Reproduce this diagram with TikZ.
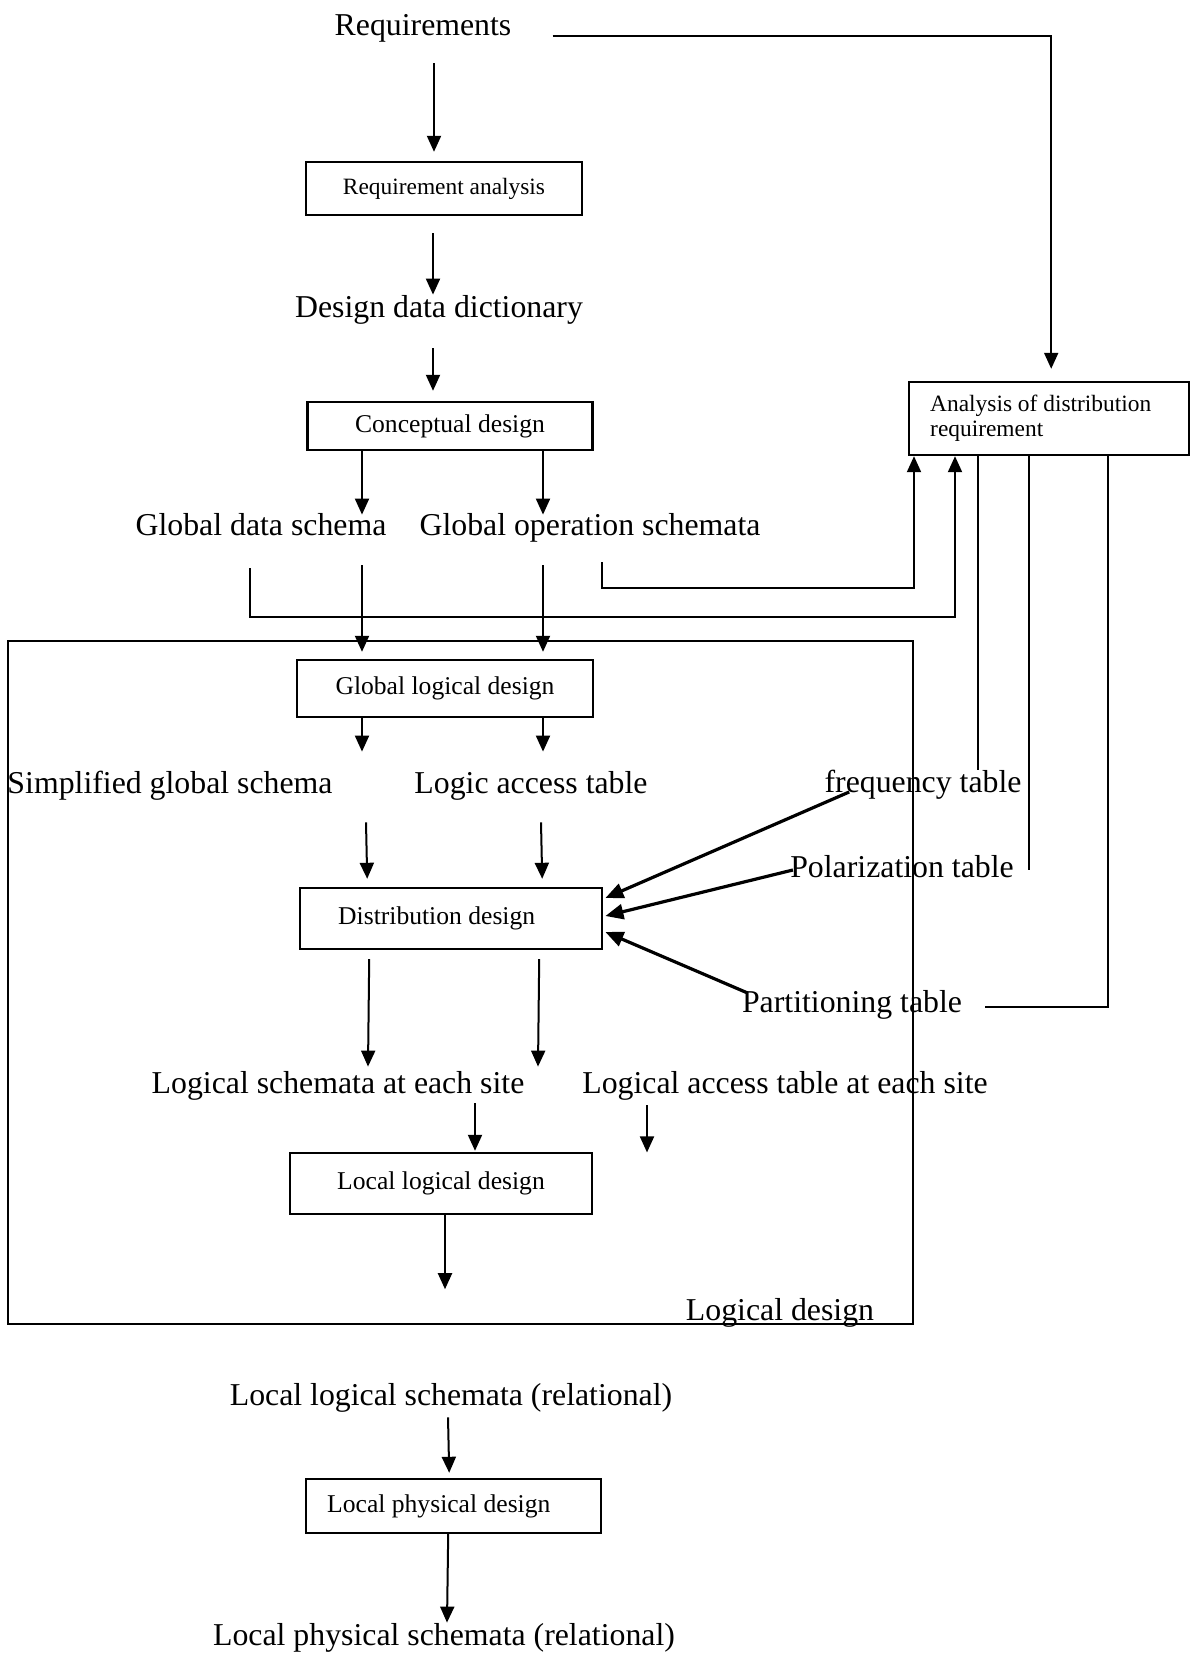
\documentclass[tikz,border=0pt]{standalone}
\usepackage{fontspec}
\setmainfont{Liberation Serif}
\usetikzlibrary{arrows.meta}
\newcommand{\diaglabelfont}{\fontsize{15.9}{19}\selectfont}
\newcommand{\diagboxfont}{\fontsize{12.8}{14}\selectfont}
\newcommand{\diagsmallfont}{\fontsize{11.7}{12.5}\selectfont}
\begin{document}
\begin{tikzpicture}[x=0.5pt, y=-0.5pt,
  lab/.style={inner sep=0pt, font=\diaglabelfont, text height=11pt, text depth=3.5pt, anchor=base},
  procbox/.style={draw, line width=1.2pt, inner sep=0pt, font=\diagboxfont},
  arr/.style={line width=1pt, -{Triangle[length=8pt,width=7pt]}},
  thickarr/.style={line width=1.6pt, -{Triangle[length=9pt,width=7.5pt]}},
  link/.style={line width=1pt},
  frame/.style={draw, line width=1.2pt, inner sep=0pt}
]
\fill[white] (0,0) rectangle (1194,1653);
\useasboundingbox (0,0) rectangle (1194,1653);

% enclosing logical design stage
\node[frame, minimum width=452.5pt, minimum height=341.5pt] (ldbox) at (460.5,982.5) {};
\node[lab] (ldlab) at (780,1320) {Logical design};

% nodes
\node[lab] (req) at (423,36) {Requirements};
\node[procbox, font=\diagsmallfont, minimum width=138pt, minimum height=26.5pt] (ra) at (444,188.5) {Requirement analysis};
\node[lab] (ddd) at (439,317) {Design data dictionary};
\node[procbox, minimum width=142.5pt, minimum height=24pt] (cd) at (450,426) {Conceptual design};
\node[lab] (gds) at (261,535) {Global data schema};
\node[lab] (gos) at (590,535) {Global operation schemata};
\node[procbox, font=\diagsmallfont, text width=119pt, align=flush left, inner xsep=10.5pt, minimum height=36.5pt, anchor=west] (adr) at (908,418.5) {Analysis of distribution\\requirement};
\node[procbox, minimum width=148pt, minimum height=28.5pt] (gld) at (445,688.5) {Global logical design};
\node[lab] (sgs) at (170,793) {Simplified global schema};
\node[lab] (lat) at (531,793) {Logic access table};
\node[lab] (ft) at (923,792) {frequency table};
\node[lab] (pt) at (902,877) {Polarization table};
\node[lab] (ptn) at (852,1012) {Partitioning table};
\node[procbox, text width=113pt, align=flush left, inner xsep=19pt, minimum height=30.5pt, anchor=west] (dd) at (299,918.5) {Distribution design};
\node[lab] (lss) at (338,1093) {Logical schemata at each site};
\node[lab] (lats) at (785,1093) {Logical access table at each site};
\node[procbox, minimum width=151pt, minimum height=30.5pt] (lld) at (441,1183.5) {Local logical design};
\node[lab] (lls) at (451,1405) {Local logical schemata (relational)};
\node[procbox, text width=126.5pt, align=flush left, inner xsep=10.5pt, minimum height=27pt, anchor=west] (lpd) at (305,1506) {Local physical design};
\node[lab] (lps) at (444,1645) {Local physical schemata (relational)};

% main flow
\draw[arr] ([xshift=5.5pt,yshift=-10pt]req.south) -- ([xshift=-5pt,yshift=4.5pt]ra.north);
\draw[arr] ([xshift=-5.5pt,yshift=-8.5pt]ra.south) -- ([xshift=-3pt]ddd.north);
\draw[arr] ([xshift=-3pt,yshift=-12pt]ddd.south) -- ([xshift=-8.5pt,yshift=5pt]cd.north);
\draw[arr] ([xshift=-44pt]cd.south) -- ([xshift=50.5pt,yshift=-1pt]gds.north);
\draw[arr] ([xshift=46.5pt]cd.south) -- ([xshift=-23.5pt,yshift=-1pt]gos.north);
\draw[arr] ([xshift=50.5pt,yshift=-11.5pt]gds.south) -- ([xshift=-41.5pt,yshift=3.5pt]gld.north);
\draw[arr] ([xshift=-23.5pt,yshift=-11.5pt]gos.south) -- ([xshift=49pt,yshift=3.5pt]gld.north);
\draw[arr] ([xshift=-41.5pt]gld.south) -- ([xshift=96pt,yshift=9.5pt]sgs.north);
\draw[arr] ([xshift=49pt]gld.south) -- ([xshift=6pt,yshift=9.5pt]lat.north);
\draw[arr] ([xshift=98pt,yshift=-11pt]sgs.south) -- ([xshift=-42pt,yshift=4pt]dd.north);
\draw[arr] ([xshift=5pt,yshift=-11pt]lat.south) -- ([xshift=45.5pt,yshift=4pt]dd.north);
\draw[thickarr] ([xshift=12.5pt]ft.base west) -- ([xshift=1pt,yshift=10.25pt]dd.east);
\draw[thickarr] ([xshift=1.5pt,yshift=3.5pt]pt.base west) -- ([xshift=1pt,yshift=1.25pt]dd.east);
\draw[thickarr] ([xshift=3pt,yshift=9.5pt]ptn.base west) -- ([xshift=1pt,yshift=-6.75pt]dd.east);
\draw[arr] ([xshift=-41pt,yshift=-4.5pt]dd.south) -- ([xshift=15pt,yshift=2pt]lss.north);
\draw[arr] ([xshift=44pt,yshift=-4.5pt]dd.south) -- ([xshift=-123.5pt,yshift=2pt]lats.north);
\draw[arr] ([xshift=68.5pt,yshift=-1.5pt]lss.south) -- ([xshift=17pt,yshift=0.5pt]lld.north);
\draw[arr] ([xshift=-69pt,yshift=-2.5pt]lats.south) -- ++(0,47);
\draw[arr] ([xshift=2pt]lld.south) -- ++(0,74);
\draw[arr] ([xshift=-1.5pt,yshift=-2.5pt]lls.south) -- ([xshift=-2.25pt,yshift=2.5pt]lpd.north);
\draw[arr] ([xshift=-2.75pt]lpd.south) -- ([xshift=1.5pt]lps.north);

% distribution requirement analysis loop
\draw[arr] ([xshift=20.5pt]req.base east) -| ([xshift=1pt,yshift=6pt]adr.north);
\draw[arr] ([xshift=6pt,yshift=-10pt]gos.south) -- ++(0,26) -| ([xshift=3pt]adr.south west);
\draw[arr] ([xshift=-5.5pt,yshift=-13pt]gds.south) -- ++(0,49) -| ([xshift=23.5pt]adr.south west);
\draw[link] ([xshift=35pt]adr.south west) coordinate (l1) -- (l1 |- ft.north);
\draw[link] ([xshift=60.5pt]adr.south west) coordinate (l2) -- (l2 |- pt.center);
\draw[link] ([xshift=100pt]adr.south west) |- ([xshift=11.5pt,yshift=-1.25pt]ptn.east);
\end{tikzpicture}
\end{document}
